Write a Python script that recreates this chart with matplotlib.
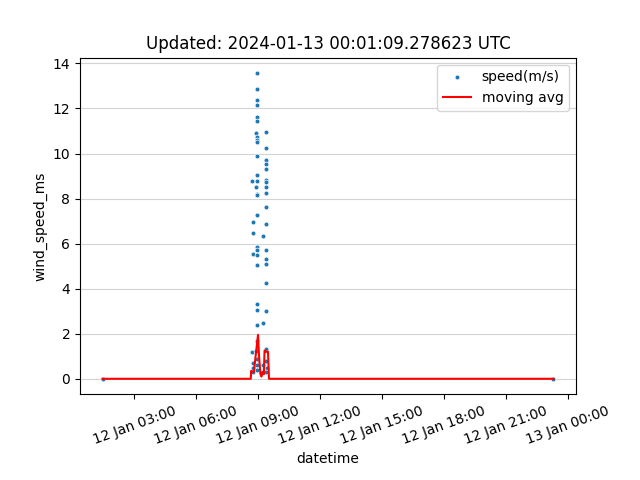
import matplotlib
matplotlib.use("Agg")
import matplotlib.pyplot as plt
import matplotlib.dates as mdates
import pandas as pd

day = "2024-01-12 "

# scatter readings (time, wind speed m/s)
speed_times = [
    "01:28",
    # burst around 08:44
    "08:43", "08:44", "08:44", "08:45", "08:43", "08:44", "08:45", "08:44",
    # burst around 08:57
    "08:57", "08:57", "08:56", "08:57", "08:56", "08:58", "08:55", "08:56",
    "08:57", "08:58", "08:57", "08:56", "08:57", "08:55", "08:57", "08:56",
    "08:58", "08:57", "08:56", "08:57", "08:58", "08:57", "08:56", "08:57",
    "08:56", "08:55", "08:57", "08:56", "08:57",
    # burst around 09:14
    "09:14", "09:14", "09:15", "09:14",
    # burst around 09:24
    "09:24", "09:24", "09:24", "09:24", "09:24", "09:24", "09:24", "09:24",
    "09:24", "09:24", "09:24", "09:24", "09:24", "09:24", "09:24", "09:24",
    "09:24", "09:23", "09:25", "09:24",
    "23:19",
]
speed_vals = [
    0,
    8.78, 6.94, 6.47, 5.53, 1.17, 0.7, 0.5, 0.3,
    13.58, 12.87, 12.36, 12.17, 11.62, 11.46, 10.9, 10.75,
    10.6, 10.5, 9.87, 9.05, 8.78, 8.53, 8.2, 8.16,
    7.27, 5.83, 5.7, 5.5, 5.04, 3.33, 3.06, 2.39,
    1.69, 1.25, 0.9, 0.6, 0.4,
    6.33, 2.48, 0.6, 0.3,
    10.95, 10.24, 9.72, 9.53, 9.32, 8.83, 8.72, 8.5,
    8.23, 7.61, 6.87, 5.71, 5.34, 5.08, 4.27, 2.99,
    1.32, 0.8, 0.5, 0.3,
    0,
]

# moving average line
avg_times = ["01:28", "08:39", "08:40", "08:48", "08:53", "09:00", "09:03",
             "09:07", "09:10", "09:13", "09:17", "09:19", "09:24", "09:29",
             "09:32", "23:19"]
avg_vals = [0, 0, 0.35, 0.3, 1.0, 1.95, 1.0, 0.2, 0.1, 0.3, 0.2, 1.25,
            1.2, 1.2, 0.0, 0]

title = "Updated: 2024-01-13 00:01:09.278623 UTC"

speed_dt = pd.to_datetime([day + t for t in speed_times])
avg_dt = pd.to_datetime([day + t for t in avg_times])

fig, ax = plt.subplots(figsize=(6.4, 4.8), dpi=100)
fig.subplots_adjust(left=0.125, right=0.9, top=0.88, bottom=0.179)

ax.scatter(speed_dt, speed_vals, s=12, color="#1f77b4", edgecolors="white",
           linewidths=0.5, label="speed(m/s)")
ax.plot(avg_dt, avg_vals, color="red", linewidth=1.5, label="moving avg")

ax.xaxis.set_major_locator(mdates.HourLocator(byhour=range(0, 24, 3)))
ax.xaxis.set_major_formatter(mdates.DateFormatter("%d %b %H:%M"))
plt.setp(ax.get_xticklabels(), rotation=20)

ax.yaxis.grid(True, color="lightgray")
ax.set_axisbelow(True)

ax.set_title(title)
ax.set_xlabel("datetime")
ax.set_ylabel("wind_speed_ms")
ax.legend(loc="upper right")

plt.savefig("out.png")
